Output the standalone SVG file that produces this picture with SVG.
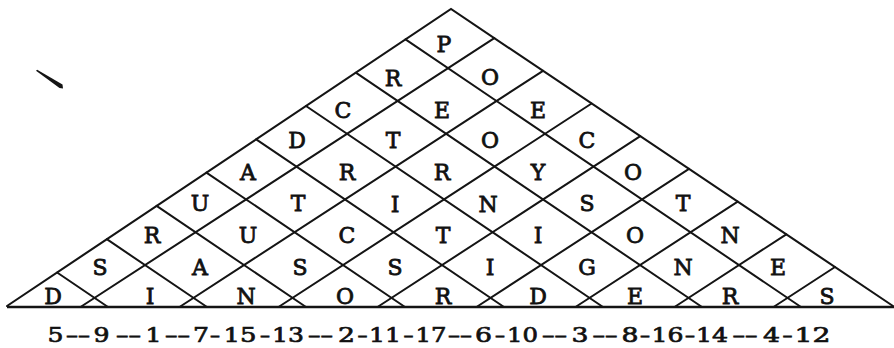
<svg xmlns="http://www.w3.org/2000/svg" width="894" height="348" viewBox="0 0 894 348">
<style>
.edge{stroke:#141414;stroke-width:2.1;fill:none;stroke-linecap:round}
.base{stroke:#141414;stroke-width:2.6;fill:none}
.grid line{stroke:#141414;stroke-width:2;stroke-linecap:round}
.l{font-family:"DejaVu Serif",serif;font-size:22px;text-anchor:middle;fill:#111;stroke:#111;stroke-width:0.8}
.n{font-family:"DejaVu Serif",serif;font-size:21px;text-anchor:middle;fill:#111;stroke:#111;stroke-width:0.7}
</style>
<rect width="894" height="348" fill="#fff"/>
<g id="mark"><path d="M36,70.8 L37.2,69.8 L62.5,84.5 L63,88.5 L59.5,88 Z" fill="#141414"/></g>
<g id="triangle">
<polyline class="edge" points="7,306 451,9 893,306"/>
<line class="base" x1="7" y1="307" x2="894" y2="307"/>
</g>
<g id="connectors" class="grid">
<line x1="494.3" y1="38.1" x2="80.5" y2="307"/>
<line x1="543.0" y1="70.8" x2="179.5" y2="307"/>
<line x1="591.6" y1="103.5" x2="278.5" y2="307"/>
<line x1="640.3" y1="136.2" x2="377.5" y2="307"/>
<line x1="689.0" y1="168.9" x2="476.5" y2="307"/>
<line x1="737.7" y1="201.6" x2="575.5" y2="307"/>
<line x1="786.3" y1="234.3" x2="674.5" y2="307"/>
<line x1="835.0" y1="267.0" x2="773.5" y2="307"/>
<line x1="405.5" y1="39.4" x2="801" y2="307"/>
<line x1="355.8" y1="72.7" x2="702" y2="307"/>
<line x1="306.0" y1="106.0" x2="603" y2="307"/>
<line x1="256.2" y1="139.3" x2="504" y2="307"/>
<line x1="206.4" y1="172.6" x2="405" y2="307"/>
<line x1="156.6" y1="205.9" x2="306" y2="307"/>
<line x1="106.8" y1="239.2" x2="207" y2="307"/>
<line x1="57.1" y1="272.5" x2="108" y2="307"/>
</g>
<g id="row1"><text class="l" x="444" y="52">P</text></g>
<g id="row2"><text class="l" x="393" y="86">R</text><text class="l" x="490" y="85">O</text></g>
<g id="row3"><text class="l" x="343" y="118">C</text><text class="l" x="442" y="118">E</text><text class="l" x="538" y="118">E</text></g>
<g id="row4"><text class="l" x="297" y="148">D</text><text class="l" x="393" y="148">T</text><text class="l" x="490" y="148">O</text><text class="l" x="587" y="148">C</text></g>
<g id="row5"><text class="l" x="248" y="180">A</text><text class="l" x="347" y="180">R</text><text class="l" x="442" y="180">R</text><text class="l" x="538" y="180">Y</text><text class="l" x="633" y="180">O</text></g>
<g id="row6"><text class="l" x="200" y="211">U</text><text class="l" x="298" y="211">T</text><text class="l" x="395" y="212">I</text><text class="l" x="488" y="212">N</text><text class="l" x="587" y="211">S</text><text class="l" x="683" y="211">T</text></g>
<g id="row7"><text class="l" x="152" y="243">R</text><text class="l" x="248" y="243">U</text><text class="l" x="347" y="243">C</text><text class="l" x="443" y="243">T</text><text class="l" x="538" y="243">I</text><text class="l" x="635" y="243">O</text><text class="l" x="730" y="243">N</text></g>
<g id="row8"><text class="l" x="100" y="275">S</text><text class="l" x="200" y="275">A</text><text class="l" x="300" y="275">S</text><text class="l" x="395" y="275">S</text><text class="l" x="490" y="275">I</text><text class="l" x="587" y="275">G</text><text class="l" x="683" y="275">N</text><text class="l" x="778" y="275">E</text></g>
<g id="row9"><text class="l" x="53" y="304">D</text><text class="l" x="150" y="304">I</text><text class="l" x="246" y="304">N</text><text class="l" x="345" y="304">O</text><text class="l" x="443" y="304">R</text><text class="l" x="538" y="304">D</text><text class="l" x="635" y="304">E</text><text class="l" x="730" y="304">R</text><text class="l" x="827" y="304">S</text></g>
<g id="numbers">
<text class="n" x="55.5" y="342" textLength="16" lengthAdjust="spacingAndGlyphs">5</text>
<text class="n" x="78" y="342" textLength="24" lengthAdjust="spacingAndGlyphs">––</text>
<text class="n" x="101.5" y="342" textLength="16" lengthAdjust="spacingAndGlyphs">9</text>
<text class="n" x="128.5" y="342" textLength="25" lengthAdjust="spacingAndGlyphs">––</text>
<text class="n" x="153.5" y="342" textLength="16" lengthAdjust="spacingAndGlyphs">1</text>
<text class="n" x="177.5" y="342" textLength="25" lengthAdjust="spacingAndGlyphs">––</text>
<text class="n" x="201" y="342" textLength="16" lengthAdjust="spacingAndGlyphs">7</text>
<text class="n" x="215" y="342" textLength="10" lengthAdjust="spacingAndGlyphs">–</text>
<text class="n" x="240" y="342" textLength="33" lengthAdjust="spacingAndGlyphs">15</text>
<text class="n" x="265" y="342" textLength="10" lengthAdjust="spacingAndGlyphs">–</text>
<text class="n" x="288" y="342" textLength="32" lengthAdjust="spacingAndGlyphs">13</text>
<text class="n" x="320.5" y="342" textLength="25" lengthAdjust="spacingAndGlyphs">––</text>
<text class="n" x="346.5" y="342" textLength="17" lengthAdjust="spacingAndGlyphs">2</text>
<text class="n" x="362.5" y="342" textLength="10" lengthAdjust="spacingAndGlyphs">–</text>
<text class="n" x="385" y="342" textLength="32" lengthAdjust="spacingAndGlyphs">11</text>
<text class="n" x="408.5" y="342" textLength="10" lengthAdjust="spacingAndGlyphs">–</text>
<text class="n" x="431" y="342" textLength="31" lengthAdjust="spacingAndGlyphs">17</text>
<text class="n" x="460" y="342" textLength="24" lengthAdjust="spacingAndGlyphs">––</text>
<text class="n" x="483.5" y="342" textLength="17" lengthAdjust="spacingAndGlyphs">6</text>
<text class="n" x="500" y="342" textLength="10" lengthAdjust="spacingAndGlyphs">–</text>
<text class="n" x="522.5" y="342" textLength="31" lengthAdjust="spacingAndGlyphs">10</text>
<text class="n" x="554.5" y="342" textLength="25" lengthAdjust="spacingAndGlyphs">––</text>
<text class="n" x="580" y="342" textLength="17" lengthAdjust="spacingAndGlyphs">3</text>
<text class="n" x="605" y="342" textLength="25" lengthAdjust="spacingAndGlyphs">––</text>
<text class="n" x="630" y="342" textLength="17" lengthAdjust="spacingAndGlyphs">8</text>
<text class="n" x="645" y="342" textLength="10" lengthAdjust="spacingAndGlyphs">–</text>
<text class="n" x="667.5" y="342" textLength="32" lengthAdjust="spacingAndGlyphs">16</text>
<text class="n" x="690" y="342" textLength="10" lengthAdjust="spacingAndGlyphs">–</text>
<text class="n" x="712" y="342" textLength="32" lengthAdjust="spacingAndGlyphs">14</text>
<text class="n" x="745" y="342" textLength="25" lengthAdjust="spacingAndGlyphs">––</text>
<text class="n" x="771.5" y="342" textLength="17" lengthAdjust="spacingAndGlyphs">4</text>
<text class="n" x="787.5" y="342" textLength="10" lengthAdjust="spacingAndGlyphs">–</text>
<text class="n" x="812.5" y="342" textLength="36" lengthAdjust="spacingAndGlyphs">12</text>
</g>
</svg>
